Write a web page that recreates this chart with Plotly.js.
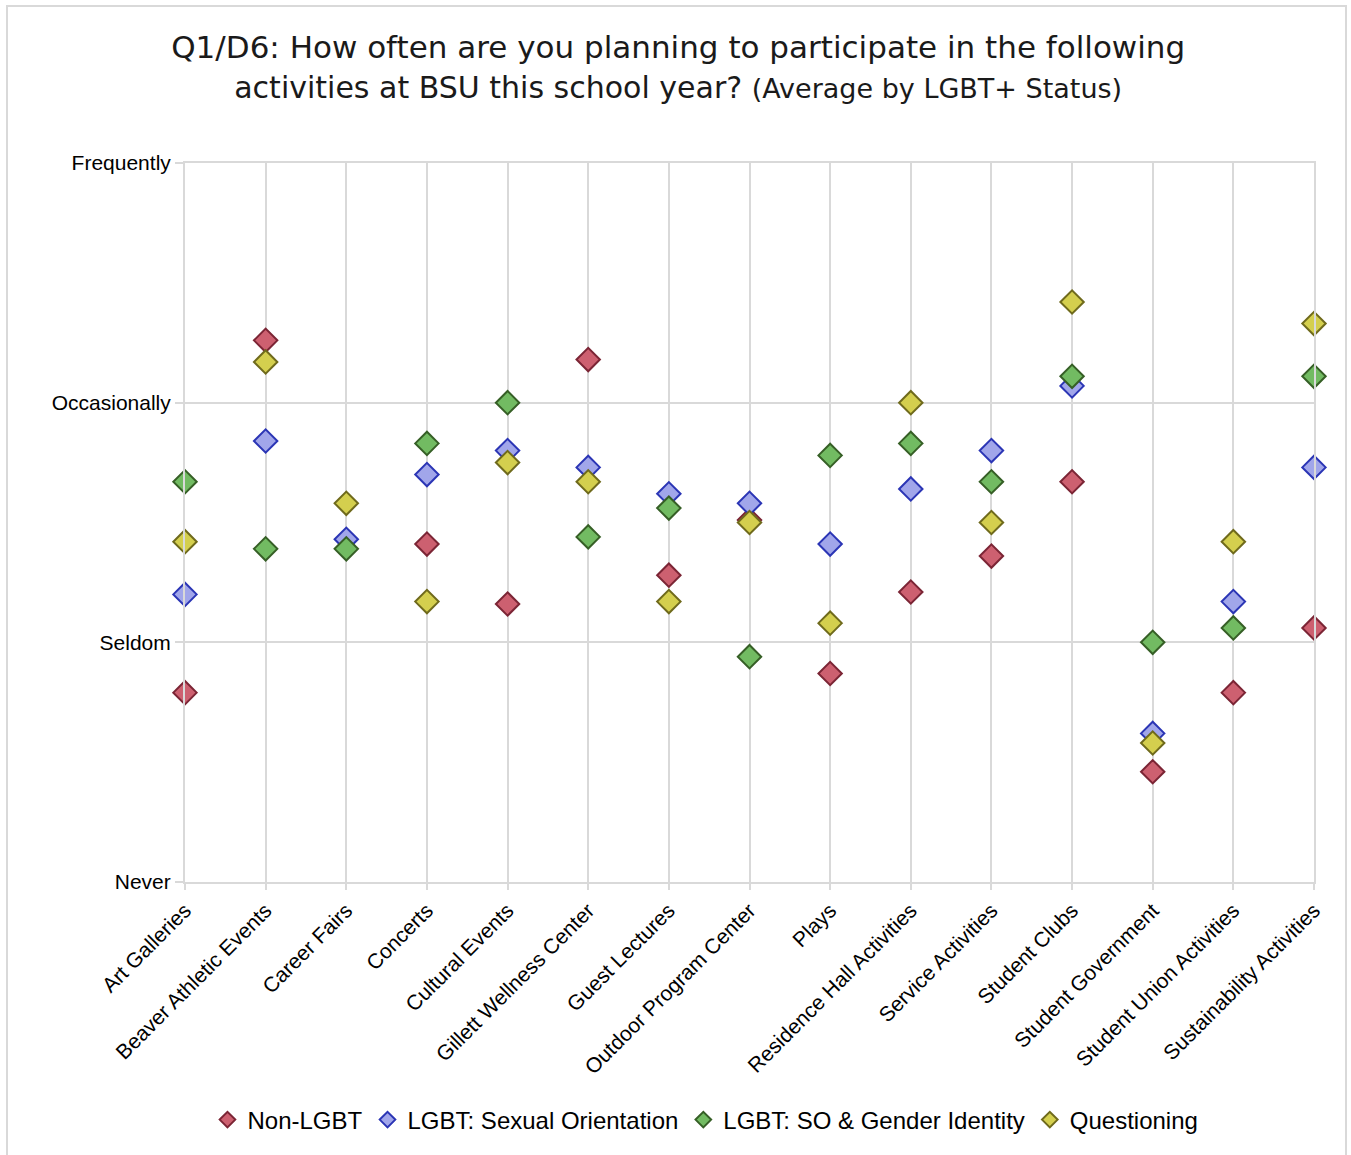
<!DOCTYPE html>
<html>
<head>
<meta charset="utf-8">
<script src="https://cdn.plot.ly/plotly-3.0.1.min.js"></script>
<style>
  html, body { margin: 0; padding: 0; background: #ffffff; }
  #wrap { position: relative; width: 1351px; height: 1155px; overflow: hidden; }
  #chart { width: 1351px; height: 1155px; }
  #frame {
    position: absolute; left: 6px; top: 5px; width: 1341px; height: 1200px;
    border: 2px solid #d9d9d9; pointer-events: none; box-sizing: border-box;
  }
</style>
</head>
<body>
<div id="wrap">
  <div id="chart"></div>
  <div id="frame"></div>
</div>
<script>
// Activities asked about in Q1/D6
const activities = [
  "Art Galleries", "Beaver Athletic Events", "Career Fairs", "Concerts",
  "Cultural Events", "Gillett Wellness Center", "Guest Lectures",
  "Outdoor Program Center", "Plays", "Residence Hall Activities",
  "Service Activities", "Student Clubs", "Student Government",
  "Student Union Activities", "Sustainability Activities"
];

// Response scale: 1 = Never ... 4 = Frequently
const scaleValues = [1, 2, 3, 4];
const scaleLabels = ["Never", "Seldom", "Occasionally", "Frequently"];

// Average response per activity, by LGBT+ status
const nonLgbt = [1.79, 3.26, null, 2.41, 2.16, 3.18, 2.28, 2.51, 1.87, 2.21, 2.36, 2.67, 1.46, 1.79, 2.06];
const lgbtSexualOrientation = [2.20, 2.84, 2.43, 2.70, 2.80, 2.73, 2.62, 2.58, 2.41, 2.64, 2.80, 3.07, 1.62, 2.17, 2.73];
const lgbtSoGender = [2.67, 2.39, 2.39, 2.83, 3.00, 2.44, 2.56, 1.94, 2.78, 2.83, 2.67, 3.11, 2.00, 2.06, 3.11];
const questioning = [2.42, 3.17, 2.58, 2.17, 2.75, 2.67, 2.17, 2.50, 2.08, 3.00, 2.50, 3.42, 1.58, 2.42, 3.33];

const seriesNames = ["Non-LGBT", "LGBT: Sexual Orientation", "LGBT: SO & Gender Identity", "Questioning"];
const seriesData = [nonLgbt, lgbtSexualOrientation, lgbtSoGender, questioning];
const fillColors = ["#cd6070", "#a1a6ea", "#72bb62", "#d4cf4e"];
const edgeColors = ["#7b2535", "#2b35b5", "#365f26", "#6f6a1c"];

const traces = seriesData.map((vals, i) => ({
  type: "scatter",
  mode: "markers",
  name: seriesNames[i],
  x: activities,
  y: vals,
  cliponaxis: false,
  marker: {
    symbol: "diamond",
    size: 18,
    color: fillColors[i],
    line: { color: edgeColors[i], width: 2 }
  },
  hovertemplate: "%{x}<br>%{y:.2f}<extra>" + seriesNames[i] + "</extra>"
}));

const gridColor = "#d9d9d9";

const layout = {
  width: 1351,
  height: 1155,
  paper_bgcolor: "#ffffff",
  plot_bgcolor: "#ffffff",
  margin: { l: 185, r: 37, t: 163, b: 273 },
  font: { family: "Liberation Sans, Arial, sans-serif", color: "#000000" },
  title: {
    text: "Q1/D6: How often are you planning to participate in the following<br>" +
          "<span style=\"font-size:30px\">activities at BSU this school year? </span>" +
          "<span style=\"font-size:27px\">(Average by LGBT+ Status)</span>",
    font: { family: "DejaVu Sans, sans-serif", size: 31, color: "#1a1a1a" },
    x: 0.502,
    xref: "container",
    xanchor: "center",
    y: 0.95,
    yref: "container",
    yanchor: "top"
  },
  xaxis: {
    type: "category",
    categoryorder: "array",
    categoryarray: activities,
    range: [0, activities.length - 1],
    showgrid: true,
    gridcolor: gridColor,
    gridwidth: 2,
    zeroline: false,
    showline: true,
    mirror: true,
    linecolor: gridColor,
    linewidth: 2,
    ticks: "outside",
    ticklen: 6,
    tickwidth: 2,
    tickcolor: gridColor,
    tickangle: -45,
    tickfont: { size: 21, color: "#000000" }
  },
  yaxis: {
    range: [1, 4],
    tickvals: scaleValues,
    ticktext: scaleLabels,
    showgrid: true,
    gridcolor: gridColor,
    gridwidth: 2,
    zeroline: false,
    showline: true,
    mirror: true,
    linecolor: gridColor,
    linewidth: 2,
    ticks: "outside",
    ticklen: 8,
    tickwidth: 2,
    tickcolor: gridColor,
    tickfont: { size: 21, color: "#000000" }
  },
  showlegend: true,
  legend: {
    orientation: "h",
    x: 0.461,
    xref: "paper",
    xanchor: "center",
    y: 1 - 1120 / 1155,
    yref: "container",
    yanchor: "middle",
    itemsizing: "constant",
    font: { size: 24, color: "#000000" },
    bgcolor: "rgba(0,0,0,0)"
  },
  hovermode: "closest"
};

Plotly.newPlot("chart", traces, layout, { displayModeBar: false });
</script>
</body>
</html>
